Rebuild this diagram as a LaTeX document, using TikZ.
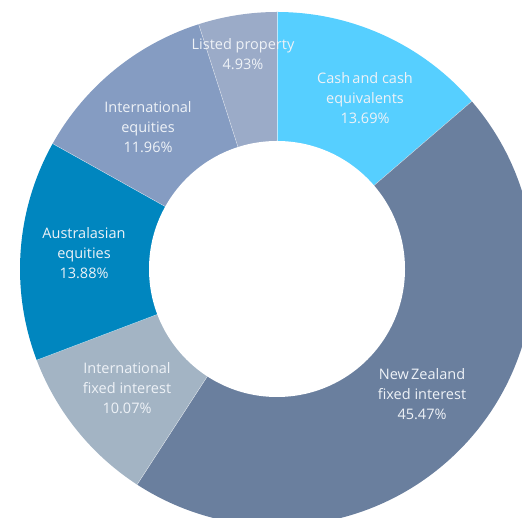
\documentclass[tikz,border=0pt]{standalone}
\usepackage{fontspec}
\setmainfont{Open Sans}
\definecolor{cashc}{HTML}{56CFFF}
\definecolor{nzc}{HTML}{6A7F9E}
\definecolor{ific}{HTML}{A3B4C4}
\definecolor{ausc}{HTML}{0086BF}
\definecolor{iec}{HTML}{859CC2}
\definecolor{lpc}{HTML}{9BABC8}
\definecolor{txt}{HTML}{EEF2F7}
\tikzset{
  lbl/.style={text=txt, align=center, font=\fontsize{14.5}{20}\selectfont, inner sep=0pt},
  sep/.style={draw=white, draw opacity=0.6, line width=0.4pt}
}
\begin{document}
\begin{tikzpicture}[x=1pt,y=1pt]
\useasboundingbox (0,0) rectangle (522,518);
\clip (0,0) rectangle (522,518);
\coordinate (c) at (277,249);
\def\R{257pt}
\def\r{128pt}
% slices
\fill[cashc] (c) -- ++(90:\R) arc[start angle=90, end angle=40.716, radius=\R] -- cycle;
\fill[nzc] (c) -- ++(40.716:\R) arc[start angle=40.716, end angle=-122.976, radius=\R] -- cycle;
\fill[ific] (c) -- ++(-122.976:\R) arc[start angle=-122.976, end angle=-159.228, radius=\R] -- cycle;
\fill[ausc] (c) -- ++(-159.228:\R) arc[start angle=-159.228, end angle=-209.196, radius=\R] -- cycle;
\fill[iec] (c) -- ++(-209.196:\R) arc[start angle=-209.196, end angle=-252.252, radius=\R] -- cycle;
\fill[lpc] (c) -- ++(-252.252:\R) arc[start angle=-252.252, end angle=-270, radius=\R] -- cycle;
% separators
\foreach \a in {90,40.716,-122.976,-159.228,-209.196,-252.252}
  \draw[sep] (c) -- ++(\a:\R);
% hole
\fill[white] (c) circle[radius=\r];
% labels
\node[lbl] (lp) at (243,464) {Listed property\\4.93\%};
\node[lbl] (cash) at (365,420) {Cash\hspace{-1.5pt} and cash\\equivalents\\13.69\%};
\node[lbl] (ie) at (148,391) {International\\equities\\11.96\%};
\node[lbl] (aus) at (84,265) {Australasian\\equities\\13.88\%};
\node[lbl] (ifi) at (127,130) {International\\fixed interest\\10.07\%};
\node[lbl] (nz) at (422,124) {New\hspace{-1.5pt} Zealand\\fixed interest\\45.47\%};
\end{tikzpicture}
\end{document}
